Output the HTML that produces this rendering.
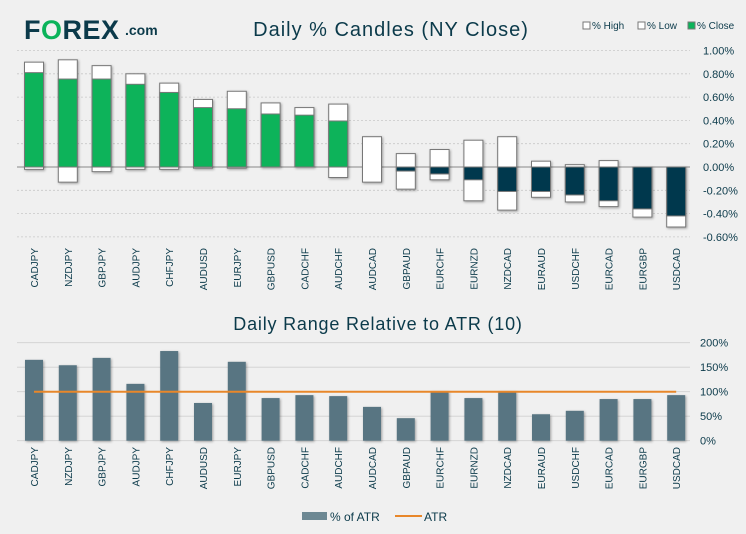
<!DOCTYPE html>
<html><head><meta charset="utf-8"><style>
body{margin:0;background:#f0f0f0;}
svg{display:block;font-family:"Liberation Sans",sans-serif;}
</style></head><body>
<svg id="c" width="746" height="534" xmlns="http://www.w3.org/2000/svg">
<defs><filter id="sh" x="-30%" y="-10%" width="160%" height="130%"><feDropShadow dx="1" dy="1" stdDeviation="1.2" flood-color="#000" flood-opacity="0.35"/></filter></defs>
<rect width="746" height="534" fill="#f0f0f0"/>
<g>
<text x="24" y="39" font-size="27" font-weight="bold" fill="#0b3a4a" letter-spacing="0.5">F<tspan fill="#0bb35a">O</tspan>REX</text>
<text x="125" y="35" font-size="14" font-weight="bold" fill="#0b3a4a">.com</text>
</g>
<text x="391" y="36" text-anchor="middle" font-size="20" fill="#0b3a4a" letter-spacing="1">Daily % Candles (NY Close)</text>
<g font-size="10" fill="#0b3a4a">
<rect x="583" y="22" width="7" height="7" fill="#fff" stroke="#777"/><text x="592" y="29">% High</text>
<rect x="638" y="22" width="7" height="7" fill="#fff" stroke="#777"/><text x="647" y="29">% Low</text>
<rect x="688" y="22" width="7" height="7" fill="#0bb35a" stroke="#777"/><text x="697" y="29">% Close</text>
</g>
<text x="378" y="330" text-anchor="middle" font-size="18" fill="#0b3a4a" letter-spacing="0.8">Daily Range Relative to ATR (10)</text>
<g font-size="12" fill="#0b3a4a">
<rect x="302" y="512" width="25" height="8" fill="#6d8893"/><text x="330" y="521">% of ATR</text>
<line x1="395" y1="516" x2="422" y2="516" stroke="#e8872a" stroke-width="2"/><text x="424" y="521">ATR</text>
</g>
<g id="topG"></g><g id="botG"></g>
</svg>
<script>
const categories=["CADJPY","NZDJPY","GBPJPY","AUDJPY","CHFJPY","AUDUSD","EURJPY","GBPUSD","CADCHF","AUDCHF","AUDCAD","GBPAUD","EURCHF","EURNZD","NZDCAD","EURAUD","USDCHF","EURCAD","EURGBP","USDCAD"];
const highs=[0.90,0.92,0.87,0.80,0.72,0.58,0.65,0.55,0.51,0.54,0.26,0.115,0.15,0.23,0.26,0.05,0.02,0.055,0,0];
const lows=[-0.02,-0.13,-0.04,-0.02,-0.02,-0.01,-0.01,0,0,-0.09,-0.13,-0.19,-0.11,-0.29,-0.37,-0.26,-0.30,-0.34,-0.43,-0.515];
const closes=[0.81,0.755,0.755,0.71,0.64,0.51,0.50,0.455,0.445,0.395,0,-0.035,-0.06,-0.11,-0.21,-0.21,-0.24,-0.29,-0.36,-0.42];
const pctTicks=[1.0,0.8,0.6,0.4,0.2,0,-0.2,-0.4,-0.6];
const atrPct=[165,154,169,116,183,77,161,87,93,91,69,46,101,87,101,54,61,85,85,93];
const atrLevel=[100];
const atrTicks=[200,150,100,50,0];
const NS="http://www.w3.org/2000/svg";
function mk(p,t,a){const e=document.createElementNS(NS,t);for(const k in a)e.setAttribute(k,a[k]);p.appendChild(e);return e;}
const xc=i=>34+i*33.8;
const yT=v=>167-v*116.5;
const yB=v=>440.7-v*0.49;
const topG=document.getElementById('topG'),botG=document.getElementById('botG');
pctTicks.forEach(t=>{
 const attrs={x1:17,x2:690,y1:yT(t),y2:yT(t),stroke:t===0?'#888':'#c8c8c8','stroke-width':t===0?1:0.8};
 if(t!==0)attrs['stroke-dasharray']='2,2';
 const l=mk(topG,'line',attrs);
 
 
 const tx=mk(topG,'text',{x:703,y:yT(t)+4,'font-size':11,fill:'#0b3a4a'});
 tx.textContent=(t<0?'-':'')+Math.abs(t).toFixed(2)+'%';
 
 
});
categories.forEach((c,i)=>{
 const x=xc(i)-9.5,w=19;
 const g=mk(topG,'g',{filter:'url(#sh)'});
 
 
 mk(g,'rect',{x:x,y:yT(highs[i]),width:w,height:Math.max(0.5,yT(lows[i])-yT(highs[i])),fill:'#fff',stroke:'#777','stroke-width':1});
 const cl=closes[i];
 if(cl!==0) mk(g,'rect',{x:x,y:Math.min(yT(0),yT(cl)),width:w,height:Math.abs(yT(cl)-yT(0)),fill:cl>0?'#0bb35a':'#06394d',stroke:'#777','stroke-width':1});
 const t=mk(topG,'text',{transform:`translate(${xc(i)+4},248) rotate(-90)`,'text-anchor':'end','font-size':10,fill:'#0b3a4a'});
 t.textContent=c;
 
 
});
atrTicks.forEach(t=>{
 const l=mk(botG,'line',{x1:17,x2:690,y1:yB(t),y2:yB(t),stroke:'#d0d0d0','stroke-width':0.8});
 
 
 const tx=mk(botG,'text',{x:700,y:yB(t)+4,'font-size':11,fill:'#0b3a4a'});
 tx.textContent=t+'%';
 
 
});
categories.forEach((c,i)=>{
 const r=mk(botG,'rect',{x:xc(i)-9,y:yB(atrPct[i]),width:18,height:yB(0)-yB(atrPct[i]),fill:'#587582',filter:'url(#sh)'});
 
 
 const t=mk(botG,'text',{transform:`translate(${xc(i)+4},447) rotate(-90)`,'text-anchor':'end','font-size':10,fill:'#0b3a4a'});
 t.textContent=c;
 
 
});
const al=mk(botG,'line',{x1:xc(0),x2:xc(categories.length-1),y1:yB(atrLevel[0]),y2:yB(atrLevel[0]),stroke:'#e8872a','stroke-width':2});


</script>
</body></html>
